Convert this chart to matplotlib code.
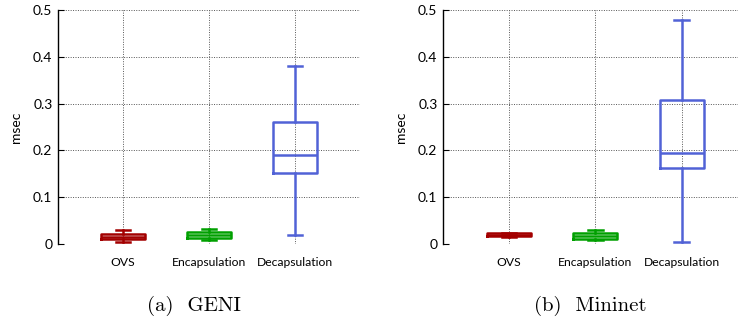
import matplotlib
matplotlib.use('Agg')
import matplotlib.pyplot as plt

categories = ['OVS', 'Encapsulation', 'Decapsulation']
colors = ['#a30000', '#00a000', '#5162d6']

# box stats: (low whisker, q1, median, q3, high whisker)
geni_stats = [
    (0.005, 0.011, 0.016, 0.021, 0.030),
    (0.0085, 0.0135, 0.019, 0.025, 0.032),
    (0.0185, 0.151, 0.191, 0.261, 0.380),
]
mininet_stats = [
    (0.015, 0.017, 0.020, 0.0228, 0.024),
    (0.008, 0.010, 0.017, 0.023, 0.030),
    (0.004, 0.163, 0.194, 0.308, 0.479),
]
captions = ['(a)  GENI', '(b)  Mininet']
yticks = [0, 0.1, 0.2, 0.3, 0.4, 0.5]
ytick_labels = ['0', '0.1', '0.2', '0.3', '0.4', '0.5']

W, H = 738, 322
fig = plt.figure(figsize=(W / 100, H / 100), dpi=100)


def to_bxp(stats):
    out = []
    for lo, q1, med, q3, hi in stats:
        out.append({'whislo': lo, 'q1': q1, 'med': med, 'q3': q3, 'whishi': hi, 'fliers': []})
    return out


def draw_panel(ax, stats, xlim):
    bp = ax.bxp(to_bxp(stats), positions=[1, 2, 3], widths=0.51, showfliers=False,
                capwidths=0.17, patch_artist=False, manage_ticks=False)
    for i, c in enumerate(colors):
        lw = 1.8
        bp['boxes'][i].set(color=c, linewidth=lw, zorder=3)
        bp['medians'][i].set(color=c, linewidth=lw, zorder=3)
        for k in (2 * i, 2 * i + 1):
            bp['whiskers'][k].set(color=c, linewidth=lw, zorder=3)
            bp['caps'][k].set(color=c, linewidth=lw, zorder=3)

    ax.set_xlim(*xlim)
    ax.set_ylim(0, 0.5)
    ax.set_xticks([1, 2, 3])
    ax.set_xticklabels(categories, fontsize=8.7, family='Lato')
    ax.set_yticks(yticks)
    ax.set_yticklabels(ytick_labels, fontsize=10, family='Lato')
    ax.tick_params(axis='y', direction='in', length=4, width=0.8, pad=4)
    ax.tick_params(axis='x', length=0, pad=9)
    for s in ('top', 'right', 'bottom'):
        ax.spines[s].set_visible(False)
    ax.spines['left'].set_linewidth(1.0)
    ax.grid(True, linestyle=(0, (1, 1.5)), color='#555555', linewidth=0.7, zorder=0)
    ax.set_axisbelow(True)
    ax.set_ylabel('msec', fontsize=10, family='Lato', labelpad=8)


ax1 = fig.add_axes([58 / W, 1 - 244 / H, 302 / W, 234 / H])
draw_panel(ax1, geni_stats, (0.244, 3.756))

ax2 = fig.add_axes([443 / W, 1 - 244 / H, 295 / W, 234 / H])
draw_panel(ax2, mininet_stats, (0.237, 3.65))

fig.text(194 / W, 1 - 306 / H, captions[0], fontsize=15, family='cmr10',
         ha='center', va='center')
fig.text(590 / W, 1 - 306 / H, captions[1], fontsize=15, family='cmr10',
         ha='center', va='center')

fig.savefig('out.png', dpi=100)
